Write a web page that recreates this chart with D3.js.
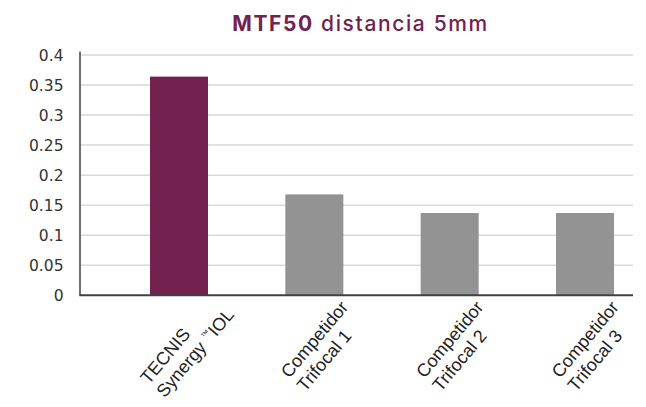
<!DOCTYPE html>
<html>
<head>
<meta charset="utf-8">
<script src="https://cdn.jsdelivr.net/npm/d3@7"></script>
<style>
  html, body { margin: 0; padding: 0; background: #fff; }
  svg { display: block; }
</style>
</head>
<body>
<svg id="chart" width="646" height="407"></svg>
<script>
// ---- data ----
const categories = ["TECNIS Synergy™ IOL", "Competidor Trifocal 1", "Competidor Trifocal 2", "Competidor Trifocal 3"];
const labelLines = [["TECNIS", "Synergy™ IOL"], ["Competidor", "Trifocal 1"], ["Competidor", "Trifocal 2"], ["Competidor", "Trifocal 3"]];
const values = [0.364, 0.168, 0.137, 0.137];
const yTicks = [0, 0.05, 0.1, 0.15, 0.2, 0.25, 0.3, 0.35, 0.4];
const yTickLabels = ["0", "0.05", "0.1", "0.15", "0.2", "0.25", "0.3", "0.35", "0.4"];
const titleBold = "MTF50";
const titleRest = " distancia 5mm";

// ---- layout ----
const svg = d3.select("#chart");
const plotLeft = 80, plotRight = 633, plotTop = 55, plotBottom = 295.3;
const purple = "#73214f", gray = "#939393";

const y = d3.scaleLinear().domain([0, 0.4]).range([plotBottom, plotTop]);
const x = d3.scaleBand().domain(categories).range([150, 614]).paddingInner(0.5714).paddingOuter(0);

// gridlines
svg.append("g").selectAll("line").data(yTicks.filter(d => d > 0)).join("line")
  .attr("x1", plotLeft).attr("x2", plotRight)
  .attr("y1", d => y(d)).attr("y2", d => y(d))
  .attr("stroke", "#d9d9d9").attr("stroke-width", 1.5);

// bars
svg.append("g").selectAll("rect").data(values).join("rect")
  .attr("x", (d, i) => x(categories[i]))
  .attr("width", x.bandwidth())
  .attr("y", d => y(d))
  .attr("height", d => plotBottom - y(d))
  .attr("fill", (d, i) => i === 0 ? purple : gray);

// axes lines
svg.append("line").attr("x1", plotLeft).attr("x2", plotLeft).attr("y1", 51.5).attr("y2", plotBottom)
  .attr("stroke", "#404040").attr("stroke-width", 1.5);
svg.append("line").attr("x1", plotLeft - 0.75).attr("x2", plotRight).attr("y1", plotBottom).attr("y2", plotBottom)
  .attr("stroke", "#404040").attr("stroke-width", 2);

// y tick labels
svg.append("g").selectAll("text").data(yTicks).join("text")
  .attr("x", 63.5).attr("y", d => y(d))
  .attr("dy", "0.36em")
  .attr("text-anchor", "end")
  .attr("font-family", "DejaVu Sans")
  .attr("font-size", 15.5)
  .attr("fill", "#333")
  .text((d, i) => yTickLabels[i]);

// x labels (rotated, two lines, left-aligned)
const fs = 18, lh = 21;
categories.forEach((c, i) => {
  const cx = x(c) + x.bandwidth() / 2;
  const g = svg.append("g").attr("transform", `translate(${cx + 8},346) rotate(-50)`);
  const texts = labelLines[i].map((t, j) => {
    const txt = g.append("text")
      .attr("font-family", "Liberation Sans, Arial, sans-serif")
      .attr("font-size", fs).attr("fill", "#222")
      .attr("y", (j - 0.5) * lh + 0.35 * fs);
    const parts = t.split("™");
    if (parts.length > 1) {
      txt.append("tspan").text(parts[0] + " ");
      txt.append("tspan").attr("font-size", fs * 0.5).attr("dy", -fs * 0.4).text("™");
      txt.append("tspan").attr("dy", fs * 0.4).text(parts[1].trim());
    } else {
      txt.text(t);
    }
    return txt;
  });
  const maxW = d3.max(texts, t => t.node().getComputedTextLength());
  texts.forEach(t => t.attr("x", -maxW / 2));
});

// title
const title = svg.append("text")
  .attr("x", 360.5).attr("y", 30.7)
  .attr("text-anchor", "middle")
  .attr("font-family", "Inter, DejaVu Sans, sans-serif")
  .attr("font-size", 21)
  .attr("fill", purple);
title.append("tspan").attr("font-weight", 700).text(titleBold);
title.append("tspan").attr("font-weight", 500).text(titleRest);
const tw = title.node().getComputedTextLength();
const n = (titleBold + titleRest).length;
title.attr("letter-spacing", (255 - tw) / (n - 1));
</script>
</body>
</html>
